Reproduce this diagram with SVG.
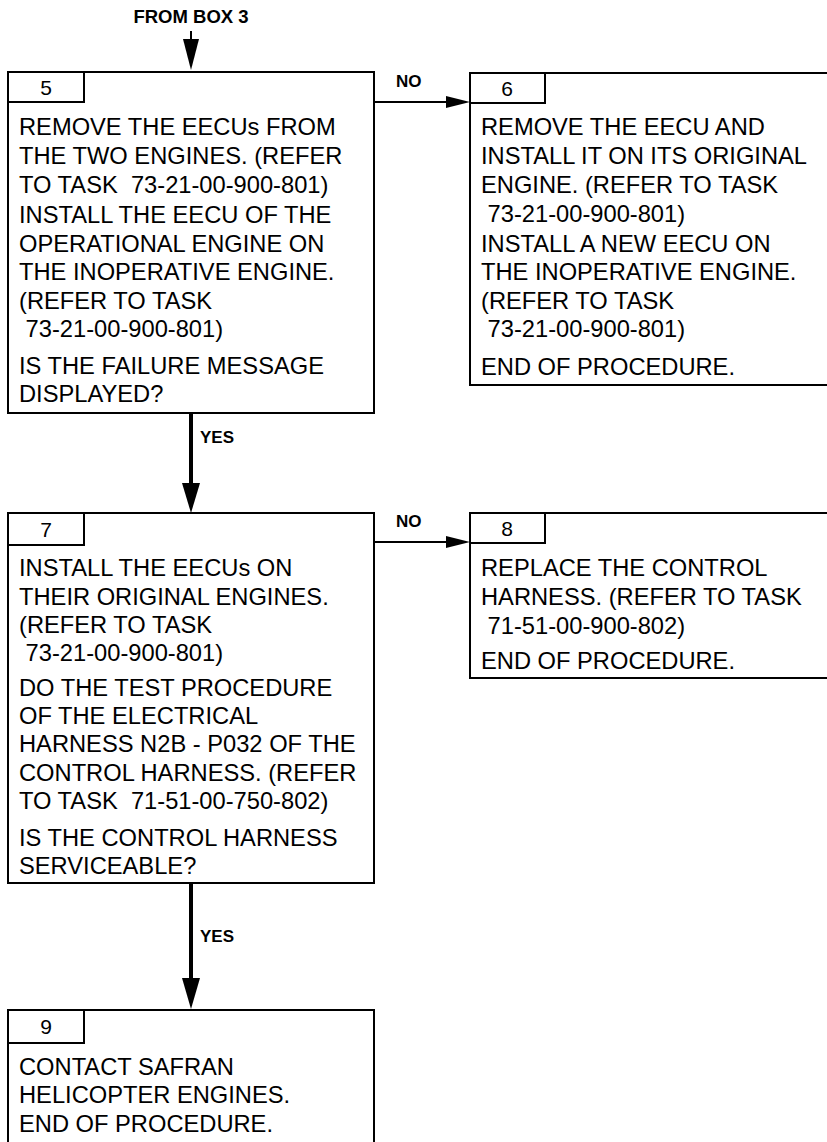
<svg xmlns="http://www.w3.org/2000/svg" width="827" height="1142" viewBox="0 0 827 1142">
<defs>
<style>
.box{fill:#fff;stroke:#000;stroke-width:2}
.t{font-family:"Liberation Sans",Arial,sans-serif;font-size:23.7px;fill:#000;white-space:pre}
.n{font-family:"Liberation Sans",Arial,sans-serif;font-size:21px;fill:#000;text-anchor:middle}
.lbl{font-family:"Liberation Sans",Arial,sans-serif;font-size:17px;font-weight:bold;fill:#000}
.thin{stroke:#000;stroke-width:2;fill:none}
.thick{stroke:#000;stroke-width:4;fill:none}
</style>
</defs>
<rect width="827" height="1142" fill="#fff"/>
<g id="connectors">
<text class="lbl" x="191" y="23" text-anchor="middle" style="font-size:18.5px">FROM BOX 3</text>
<line class="thin" x1="191" y1="31" x2="191" y2="42"/>
<polygon points="183,39 199,39 191,70"/>
<line class="thin" x1="374" y1="102" x2="448" y2="102"/>
<polygon points="446,96 446,108 470,102"/>
<text class="lbl" x="396" y="87">NO</text>
<line class="thick" x1="191" y1="413" x2="191" y2="485"/>
<polygon points="182,483 200,483 191,513"/>
<text class="lbl" x="200" y="443">YES</text>
<line class="thin" x1="374" y1="542" x2="448" y2="542"/>
<polygon points="446,536 446,548 470,542"/>
<text class="lbl" x="396" y="527">NO</text>
<line class="thick" x1="191" y1="883" x2="191" y2="980"/>
<polygon points="182,978 200,978 191,1009"/>
<text class="lbl" x="200" y="942">YES</text>
</g>
<g id="box5">
<rect class="box" x="8" y="72" width="366" height="341"/>
<rect class="box" x="8" y="72" width="76" height="30"/>
<text class="n" x="46" y="95">5</text>
<text class="t" x="19" y="135">REMOVE THE EECUs FROM</text>
<text class="t" x="19" y="164">THE TWO ENGINES. (REFER</text>
<text class="t" x="19" y="193" xml:space="preserve">TO TASK  73-21-00-900-801)</text>
<text class="t" x="19" y="223">INSTALL THE EECU OF THE</text>
<text class="t" x="19" y="252">OPERATIONAL ENGINE ON</text>
<text class="t" x="19" y="280">THE INOPERATIVE ENGINE.</text>
<text class="t" x="19" y="309">(REFER TO TASK</text>
<text class="t" x="19" y="337" xml:space="preserve"> 73-21-00-900-801)</text>
<text class="t" x="19" y="374">IS THE FAILURE MESSAGE</text>
<text class="t" x="19" y="402">DISPLAYED?</text>
</g>
<g id="box6">
<rect class="box" x="470" y="73" width="370" height="312"/>
<rect class="box" x="470" y="73" width="75" height="30"/>
<text class="n" x="507" y="96">6</text>
<text class="t" x="481" y="135">REMOVE THE EECU AND</text>
<text class="t" x="481" y="164">INSTALL IT ON ITS ORIGINAL</text>
<text class="t" x="481" y="193">ENGINE. (REFER TO TASK</text>
<text class="t" x="481" y="222" xml:space="preserve"> 73-21-00-900-801)</text>
<text class="t" x="481" y="252">INSTALL A NEW EECU ON</text>
<text class="t" x="481" y="280">THE INOPERATIVE ENGINE.</text>
<text class="t" x="481" y="309">(REFER TO TASK</text>
<text class="t" x="481" y="337" xml:space="preserve"> 73-21-00-900-801)</text>
<text class="t" x="481" y="375">END OF PROCEDURE.</text>
</g>
<g id="box7">
<rect class="box" x="8" y="513" width="366" height="370"/>
<rect class="box" x="8" y="513" width="76" height="32"/>
<text class="n" x="46" y="537">7</text>
<text class="t" x="19" y="576">INSTALL THE EECUs ON</text>
<text class="t" x="19" y="605">THEIR ORIGINAL ENGINES.</text>
<text class="t" x="19" y="633">(REFER TO TASK</text>
<text class="t" x="19" y="661" xml:space="preserve"> 73-21-00-900-801)</text>
<text class="t" x="19" y="696">DO THE TEST PROCEDURE</text>
<text class="t" x="19" y="724">OF THE ELECTRICAL</text>
<text class="t" x="19" y="752">HARNESS N2B - P032 OF THE</text>
<text class="t" x="19" y="781">CONTROL HARNESS. (REFER</text>
<text class="t" x="19" y="809" xml:space="preserve">TO TASK  71-51-00-750-802)</text>
<text class="t" x="19" y="846">IS THE CONTROL HARNESS</text>
<text class="t" x="19" y="874">SERVICEABLE?</text>
</g>
<g id="box8">
<rect class="box" x="470" y="513" width="370" height="165"/>
<rect class="box" x="470" y="513" width="75" height="30"/>
<text class="n" x="507" y="536">8</text>
<text class="t" x="481" y="576">REPLACE THE CONTROL</text>
<text class="t" x="481" y="605">HARNESS. (REFER TO TASK</text>
<text class="t" x="481" y="634" xml:space="preserve"> 71-51-00-900-802)</text>
<text class="t" x="481" y="669">END OF PROCEDURE.</text>
</g>
<g id="box9">
<rect class="box" x="8" y="1010" width="366" height="150"/>
<rect class="box" x="8" y="1010" width="76" height="33"/>
<text class="n" x="46" y="1034">9</text>
<text class="t" x="19" y="1075">CONTACT SAFRAN</text>
<text class="t" x="19" y="1103">HELICOPTER ENGINES.</text>
<text class="t" x="19" y="1132">END OF PROCEDURE.</text>
</g>
</svg>
